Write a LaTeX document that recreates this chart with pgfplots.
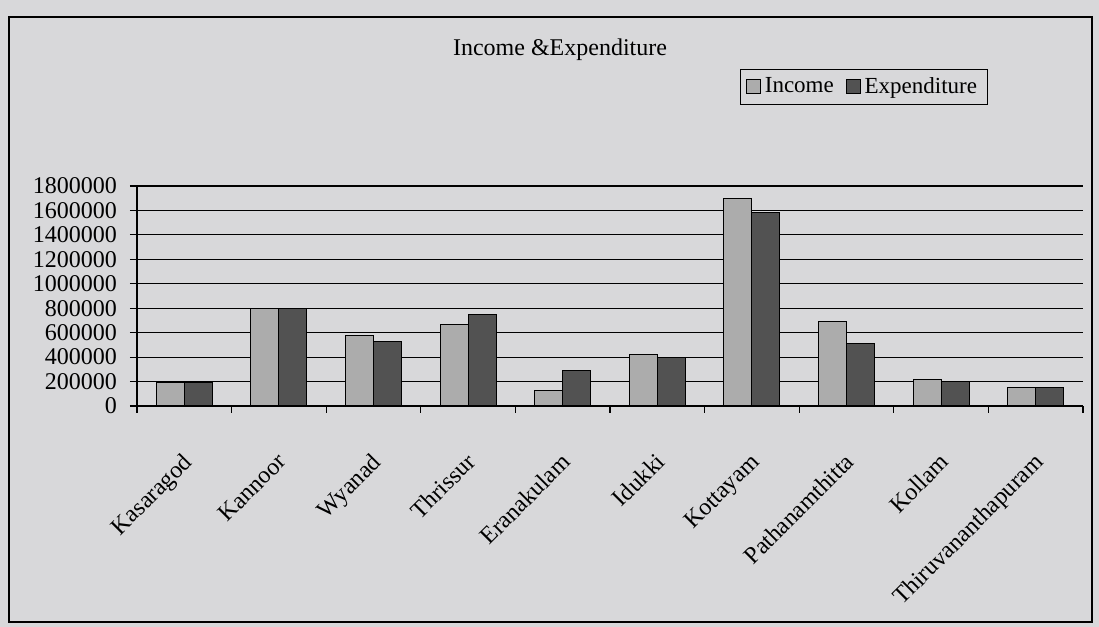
\documentclass[border=0pt]{standalone}
\usepackage{fontspec}
\setmainfont{Liberation Serif}
\usepackage{pgfplots}
\pgfplotsset{compat=1.18}
\definecolor{bg}{RGB}{216,216,218}
\definecolor{inc}{RGB}{172,172,172}
\definecolor{expc}{RGB}{82,82,82}
\begin{document}
\begin{tikzpicture}[x=1pt,y=1pt]
\fill[bg] (0,0) rectangle (549.5,313.5);
\useasboundingbox (0,0) rectangle (549.5,313.5);
\draw[line width=1pt] (4.5,2.5) rectangle (546,305);
\node[font=\fontsize{12}{14}\selectfont] at (280,288.5) {Income \&Expenditure};
\begin{axis}[
  at={(68.5pt,110.5pt)}, anchor=south west,
  scale only axis, width=473pt, height=110pt,
  ybar=0pt, bar width=14pt,
  xmin=-0.5, xmax=9.5, ymin=0, ymax=1800000,
  axis x line*=bottom, axis y line*=left,
  axis line style={black, line width=0.8pt},
  ytick={0,200000,...,1800000},
  ymajorgrids, grid style={black, line width=0.6pt},
  xtick={-0.5,0.5,...,9.5},
  xticklabels={,,,,,,,,,,},
  extra x ticks={0,1,2,3,4,5,6,7,8,9},
  extra x tick labels={Kasaragod,Kannoor,Wyanad,Thrissur,Eranakulam,Idukki,Kottayam,Pathanamthitta,Kollam,Thiruvananthapuram},
  extra x tick style={major tick length=0pt},
  tick align=outside,
  major tick length=3.5pt,
  tick style={black, line width=0.6pt},
  scaled y ticks=false,
  /pgf/number format/assume math mode=true,
  yticklabel style={/pgf/number format/fixed, /pgf/number format/1000 sep={}, font=\fontsize{12}{12}\selectfont, xshift=-3pt},
  xticklabel style={rotate=45, anchor=north east, font=\fontsize{12}{12}\selectfont, inner sep=0pt, xshift=-17pt, yshift=-15pt},
  legend style={at={(0.768,1.452)}, anchor=center, legend columns=2, draw=black, fill=none, font=\fontsize{11.5}{13}\selectfont, /tikz/every even column/.append style={column sep=4pt}},
  legend image code/.code={\draw[#1, draw=black, line width=0.4pt] (0pt,-3.5pt) rectangle (7pt,3.5pt);},
]
\addplot[fill=inc, draw=black, line width=0.5pt] coordinates {(0,190000) (1,800000) (2,575000) (3,665000) (4,125000) (5,420000) (6,1695000) (7,688000) (8,215000) (9,152000)};
\addplot[fill=expc, draw=black, line width=0.5pt] coordinates {(0,190000) (1,795000) (2,525000) (3,745000) (4,290000) (5,395000) (6,1580000) (7,513000) (8,200000) (9,155000)};
\legend{Income, Expenditure}
\end{axis}
\end{tikzpicture}
\end{document}
